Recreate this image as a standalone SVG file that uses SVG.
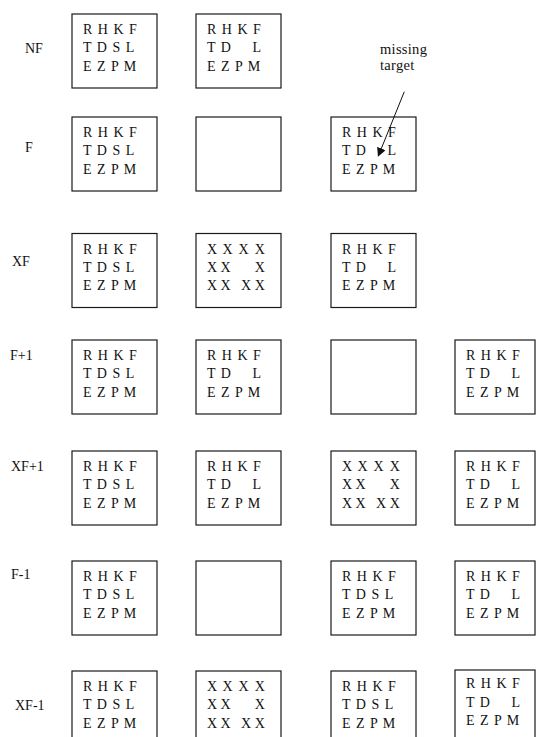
<svg xmlns="http://www.w3.org/2000/svg" width="536" height="737" viewBox="0 0 536 737" font-family="'Liberation Serif', 'Times New Roman', Times, 'DejaVu Serif', serif">
<style>
  .bx{fill:#fff;stroke:#1a1a1a;stroke-width:1.2}
  .t{font-size:14px;letter-spacing:1px;fill:#111}
  .lab{font-size:14px;fill:#111}
  .ann{font-size:14.5px;letter-spacing:0.3px;fill:#111}
</style>
<defs>
  <marker id="ah" viewBox="0 0 10 10" refX="9" refY="5" markerWidth="9" markerHeight="9" markerUnits="userSpaceOnUse" orient="auto">
    <path d="M0,0 L10,5 L0,10 z" fill="#111"/>
  </marker>
</defs>

<g id="labels">
  <text class="lab" x="25" y="53">NF</text>
  <text class="lab" x="25" y="152">F</text>
  <text class="lab" x="12" y="266">XF</text>
  <text class="lab" x="10" y="360">F+1</text>
  <text class="lab" x="11" y="471">XF+1</text>
  <text class="lab" x="11" y="579">F-1</text>
  <text class="lab" x="15" y="710">XF-1</text>
</g>

<!-- Row NF -->
<g id="nf-1" transform="translate(72,14)">
  <rect class="bx" x="0" y="0" width="85" height="74"/>
  <text class="t"><tspan x="11" y="20">R H K F</tspan><tspan x="11" y="38">T D S L</tspan><tspan x="11" y="56.5">E Z P M</tspan></text>
</g>
<g id="nf-2" transform="translate(196,14)">
  <rect class="bx" x="0" y="0" width="85" height="74"/>
  <text class="t"><tspan x="11" y="20">R H K F</tspan><tspan x="11" y="38">T D</tspan><tspan x="56.6" y="38">L</tspan><tspan x="11" y="56.5">E Z P M</tspan></text>
</g>

<!-- Row F -->
<g id="f-1" transform="translate(72,117)">
  <rect class="bx" x="0" y="0" width="85" height="74"/>
  <text class="t"><tspan x="11" y="20">R H K F</tspan><tspan x="11" y="38">T D S L</tspan><tspan x="11" y="56.5">E Z P M</tspan></text>
</g>
<g id="f-2" transform="translate(196,117)">
  <rect class="bx" x="0" y="0" width="85" height="74"/>
</g>
<g id="f-3" transform="translate(331,117)">
  <rect class="bx" x="0" y="0" width="85" height="74"/>
  <text class="t"><tspan x="11" y="20">R H K F</tspan><tspan x="11" y="38">T D</tspan><tspan x="56.6" y="38">L</tspan><tspan x="11" y="56.5">E Z P M</tspan></text>
</g>
<g id="missing-target">
  <text class="ann"><tspan x="380" y="54">missing</tspan><tspan x="380" y="69.5">target</tspan></text>
</g>

<!-- Row XF -->
<g id="xf-1" transform="translate(72,233.5)">
  <rect class="bx" x="0" y="0" width="85" height="74"/>
  <text class="t"><tspan x="11" y="20">R H K F</tspan><tspan x="11" y="38">T D S L</tspan><tspan x="11" y="56.5">E Z P M</tspan></text>
</g>
<g id="xf-2" transform="translate(196,233.5)">
  <rect class="bx" x="0" y="0" width="85" height="74"/>
  <text class="t"><tspan x="11 22 26.5 38 42.5 54 58.8" y="20">X X X X</tspan><tspan x="11 22 24.6" y="38">X X</tspan><tspan x="58.8" y="38">X</tspan><tspan x="11 22 24.6" y="56.5">X X</tspan><tspan x="45 56 58.8" y="56.5">X X</tspan></text>
</g>
<g id="xf-3" transform="translate(331,233.5)">
  <rect class="bx" x="0" y="0" width="85" height="74"/>
  <text class="t"><tspan x="11" y="20">R H K F</tspan><tspan x="11" y="38">T D</tspan><tspan x="56.6" y="38">L</tspan><tspan x="11" y="56.5">E Z P M</tspan></text>
</g>

<!-- Row F+1 -->
<g id="fp1-1" transform="translate(72,340)">
  <rect class="bx" x="0" y="0" width="85" height="74"/>
  <text class="t"><tspan x="11" y="20">R H K F</tspan><tspan x="11" y="38">T D S L</tspan><tspan x="11" y="56.5">E Z P M</tspan></text>
</g>
<g id="fp1-2" transform="translate(196,340)">
  <rect class="bx" x="0" y="0" width="85" height="74"/>
  <text class="t"><tspan x="11" y="20">R H K F</tspan><tspan x="11" y="38">T D</tspan><tspan x="56.6" y="38">L</tspan><tspan x="11" y="56.5">E Z P M</tspan></text>
</g>
<g id="fp1-3" transform="translate(331,340)">
  <rect class="bx" x="0" y="0" width="85" height="74"/>
</g>
<g id="fp1-4" transform="translate(455,340)">
  <rect class="bx" x="0" y="0" width="80" height="74"/>
  <text class="t"><tspan x="11" y="20">R H K F</tspan><tspan x="11" y="38">T D</tspan><tspan x="56.6" y="38">L</tspan><tspan x="11" y="56.5">E Z P M</tspan></text>
</g>

<!-- Row XF+1 -->
<g id="xfp1-1" transform="translate(72,451)">
  <rect class="bx" x="0" y="0" width="85" height="74"/>
  <text class="t"><tspan x="11" y="20">R H K F</tspan><tspan x="11" y="38">T D S L</tspan><tspan x="11" y="56.5">E Z P M</tspan></text>
</g>
<g id="xfp1-2" transform="translate(196,451)">
  <rect class="bx" x="0" y="0" width="85" height="74"/>
  <text class="t"><tspan x="11" y="20">R H K F</tspan><tspan x="11" y="38">T D</tspan><tspan x="56.6" y="38">L</tspan><tspan x="11" y="56.5">E Z P M</tspan></text>
</g>
<g id="xfp1-3" transform="translate(331,451)">
  <rect class="bx" x="0" y="0" width="85" height="74"/>
  <text class="t"><tspan x="11 22 26.5 38 42.5 54 58.8" y="20">X X X X</tspan><tspan x="11 22 24.6" y="38">X X</tspan><tspan x="58.8" y="38">X</tspan><tspan x="11 22 24.6" y="56.5">X X</tspan><tspan x="45 56 58.8" y="56.5">X X</tspan></text>
</g>
<g id="xfp1-4" transform="translate(455,451)">
  <rect class="bx" x="0" y="0" width="80" height="74"/>
  <text class="t"><tspan x="11" y="20">R H K F</tspan><tspan x="11" y="38">T D</tspan><tspan x="56.6" y="38">L</tspan><tspan x="11" y="56.5">E Z P M</tspan></text>
</g>

<!-- Row F-1 -->
<g id="fm1-1" transform="translate(72,561)">
  <rect class="bx" x="0" y="0" width="85" height="74"/>
  <text class="t"><tspan x="11" y="20">R H K F</tspan><tspan x="11" y="38">T D S L</tspan><tspan x="11" y="56.5">E Z P M</tspan></text>
</g>
<g id="fm1-2" transform="translate(196,561)">
  <rect class="bx" x="0" y="0" width="85" height="74"/>
</g>
<g id="fm1-3" transform="translate(331,561)">
  <rect class="bx" x="0" y="0" width="85" height="74"/>
  <text class="t"><tspan x="11" y="20">R H K F</tspan><tspan x="11" y="38">T D S L</tspan><tspan x="11" y="56.5">E Z P M</tspan></text>
</g>
<g id="fm1-4" transform="translate(455,561)">
  <rect class="bx" x="0" y="0" width="80" height="74"/>
  <text class="t"><tspan x="11" y="20">R H K F</tspan><tspan x="11" y="38">T D</tspan><tspan x="56.6" y="38">L</tspan><tspan x="11" y="56.5">E Z P M</tspan></text>
</g>

<!-- Row XF-1 -->
<g id="xfm1-1" transform="translate(72,671)">
  <rect class="bx" x="0" y="0" width="85" height="74"/>
  <text class="t"><tspan x="11" y="20">R H K F</tspan><tspan x="11" y="38">T D S L</tspan><tspan x="11" y="56.5">E Z P M</tspan></text>
</g>
<g id="xfm1-2" transform="translate(196,671)">
  <rect class="bx" x="0" y="0" width="85" height="74"/>
  <text class="t"><tspan x="11 22 26.5 38 42.5 54 58.8" y="20">X X X X</tspan><tspan x="11 22 24.6" y="38">X X</tspan><tspan x="58.8" y="38">X</tspan><tspan x="11 22 24.6" y="56.5">X X</tspan><tspan x="45 56 58.8" y="56.5">X X</tspan></text>
</g>
<g id="xfm1-3" transform="translate(331,671)">
  <rect class="bx" x="0" y="0" width="85" height="74"/>
  <text class="t"><tspan x="11" y="20">R H K F</tspan><tspan x="11" y="38">T D S L</tspan><tspan x="11" y="56.5">E Z P M</tspan></text>
</g>
<g id="xfm1-4" transform="translate(455,670)">
  <rect class="bx" x="0" y="0" width="80" height="74"/>
  <text class="t"><tspan x="11" y="18">R H K F</tspan><tspan x="11" y="36.5">T D</tspan><tspan x="56.6" y="36.5">L</tspan><tspan x="11" y="55">E Z P M</tspan></text>
</g>

<g id="connectors">
  <line x1="404.3" y1="91.7" x2="378.3" y2="156" stroke="#111" stroke-width="1" marker-end="url(#ah)"/>
</g>
</svg>
